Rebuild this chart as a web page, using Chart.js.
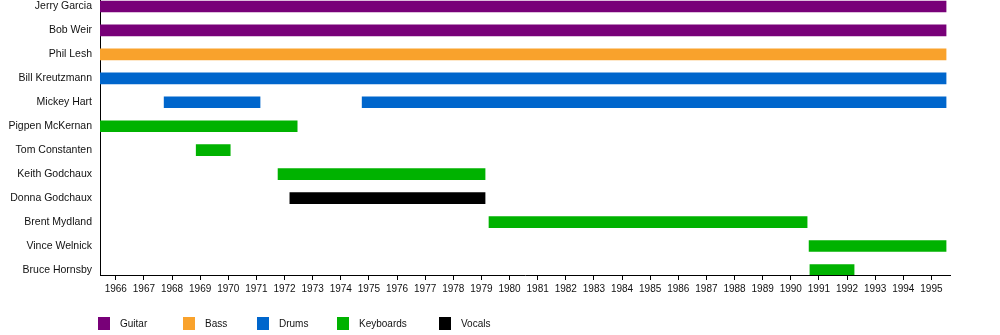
<!DOCTYPE html>
<html>
<head>
<meta charset="utf-8">
<title>Grateful Dead members timeline</title>
<script src="https://cdn.jsdelivr.net/npm/chart.js@4.4.1/dist/chart.umd.min.js"></script>
<style>
  body { margin: 0; background: #fff; font-family: "Liberation Sans", Arial, sans-serif; }
  #wrap { position: relative; width: 1000px; height: 335px; }
  #legend { position: absolute; top: 317px; left: 0; width: 1000px; height: 14px; font-size: 10px; color: #111; }
  .item { position: absolute; top: 0; display: flex; align-items: center; height: 13px; }
  .box { width: 12px; height: 13px; margin-right: 10px; }
</style>
</head>
<body>
<div id="wrap">
  <canvas id="timeline"></canvas>
  <div id="legend"></div>
</div>
<script>
// band members, top to bottom
var members = [
  'Jerry Garcia', 'Bob Weir', 'Phil Lesh', 'Bill Kreutzmann', 'Mickey Hart',
  'Pigpen McKernan', 'Tom Constanten', 'Keith Godchaux', 'Donna Godchaux',
  'Brent Mydland', 'Vince Welnick', 'Bruce Hornsby'
]
var years = [1966, 1967, 1968, 1969, 1970, 1971, 1972, 1973, 1974, 1975, 1976, 1977, 1978, 1979, 1980,
             1981, 1982, 1983, 1984, 1985, 1986, 1987, 1988, 1989, 1990, 1991, 1992, 1993, 1994, 1995]

var roles  = ['Guitar', 'Bass', 'Drums', 'Keyboards', 'Vocals']
var colors = ['#780078', '#f9a22c', '#0066cc', '#00b200', '#000000']

// [member, from, to] in decimal years
var guitar = [['Jerry Garcia', 1965.44, 1995.52], ['Bob Weir', 1965.44, 1995.52]]
var bass   = [['Phil Lesh', 1965.44, 1995.52]]
var drums  = [['Bill Kreutzmann', 1965.44, 1995.52], ['Mickey Hart', 1967.72, 1971.13], ['Mickey Hart', 1974.76, 1995.52]]
var keys   = [['Pigpen McKernan', 1965.44, 1972.45], ['Tom Constanten', 1968.86, 1970.07],
              ['Keith Godchaux', 1971.77, 1979.13], ['Brent Mydland', 1979.27, 1990.58],
              ['Vince Welnick', 1990.65, 1995.52], ['Bruce Hornsby', 1990.68, 1992.25]]
var vocals = [['Donna Godchaux', 1972.19, 1979.13]]

var spans = [guitar, bass, drums, keys, vocals]

var datasets = roles.map(function (role, i) {
  return {
    label: role,
    data: spans[i].map(function (s) { return { x: [s[1], s[2]], y: members.indexOf(s[0]) } }),
    backgroundColor: colors[i],
    borderWidth: 0,
    barThickness: 11,
    grouped: false
  }
})

var ctx = document.getElementById('timeline').getContext('2d')
new Chart(ctx, {
  type: 'bar',
  data: { datasets: datasets },
  options: {
    indexAxis: 'y',
    responsive: true,
    maintainAspectRatio: false,
    animation: false,
    layout: { padding: { top: 0, right: 50, left: 0, bottom: 0 } },
    plugins: { legend: { display: false }, tooltip: { enabled: false } },
    scales: {
      x: {
        type: 'linear',
        min: 1965.44,
        max: 1995.66,
        afterBuildTicks: function (scale) { scale.ticks = years.map(function (v) { return { value: v } }) },
        afterFit: function (scale) { scale.height = 60 },
        border: { color: '#000', width: 1 },
        grid: { drawOnChartArea: false, drawTicks: true, tickLength: 5, color: '#000' },
        ticks: {
          autoSkip: false, maxRotation: 0, padding: 3, color: '#111',
          font: { family: 'Liberation Sans', size: 10 },
          callback: function (v) { return String(v) }
        }
      },
      y: {
        type: 'linear',
        reverse: true,
        offset: false,
        min: -0.27,
        max: 11.21,
        afterBuildTicks: function (scale) { scale.ticks = members.map(function (m, i) { return { value: i } }) },
        afterFit: function (scale) {
          scale.width = 100
          // labels sit well inside the range, no room needed above or below
          scale.paddingTop = 0
          scale.paddingBottom = 0
        },
        border: { color: '#000', width: 1 },
        grid: { display: false, drawTicks: false },
        ticks: {
          padding: 8, color: '#111',
          font: { family: 'Liberation Sans', size: 10.5 },
          callback: function (v) { return members[v] }
        }
      }
    }
  }
})

// legend row under the axis
var legendX = [98, 183, 257, 337, 439]
var legend = document.getElementById('legend')
roles.forEach(function (role, i) {
  var item = document.createElement('div')
  item.className = 'item'
  item.style.left = legendX[i] + 'px'
  item.innerHTML = '<span class="box" style="background:' + colors[i] + '"></span><span>' + role + '</span>'
  legend.appendChild(item)
})
</script>
</body>
</html>
